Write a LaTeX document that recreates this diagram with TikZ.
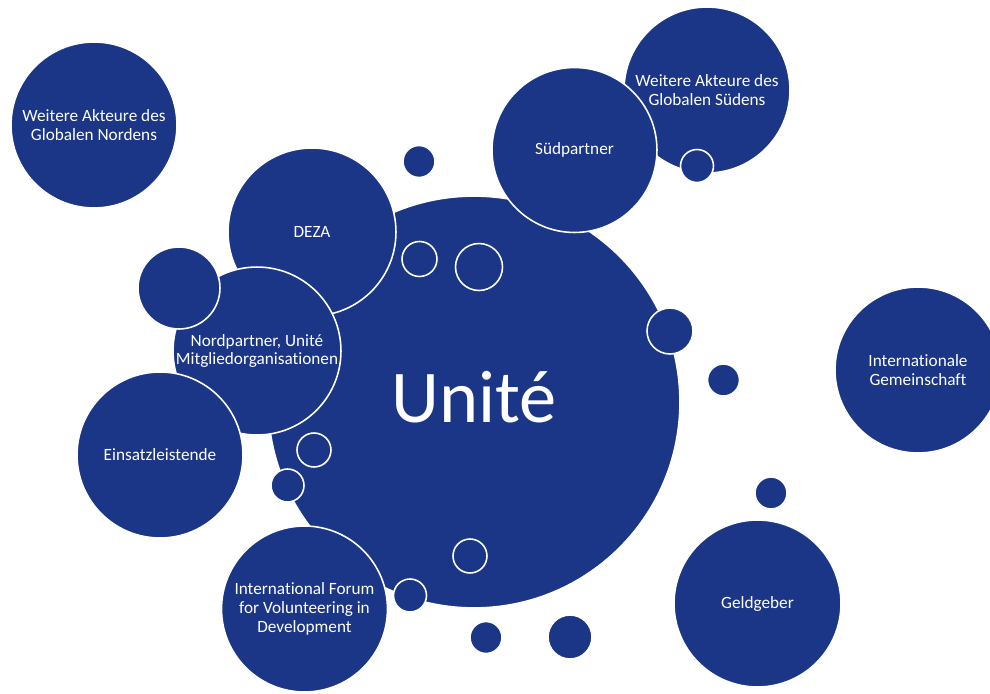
\documentclass[tikz,border=0pt]{standalone}
\usepackage{fontspec}
\setmainfont[Ligatures=NoCommon]{Carlito}
\definecolor{uniteblue}{RGB}{27,54,134}
\begin{document}
\begin{tikzpicture}[x=0.02cm,y=-0.02cm,
  bubble/.style={circle, fill=uniteblue, draw=white, line width=0.9pt,
    minimum size=#1*0.04cm, inner sep=0pt},
  bubbletext/.style={text=white, font=\fontsize{9.8}{10.8}\selectfont, align=center},
  bigtext/.style={text=white, font=\fontsize{42.4}{46}\selectfont}
]
\useasboundingbox (0,0) rectangle (990,693);

% outer actors
\node[bubble=83, bubbletext] (nord) at (94,125) {Weitere Akteure des\\Globalen Nordens};
\node[bubble=83, bubbletext] (sued) at (707,90) {Weitere Akteure des\\Globalen Südens};

% central organisation
\node[bubble=206] (unite) at (474,402) {};
\node[bigtext, anchor=base] (unitetext) at (474,422) {Unité};

% partners around the centre
\node[bubble=84, bubbletext] (deza) at (312,232) {DEZA};
\node[bubble=84, bubbletext] (nordpartner) at (257,351) {Nordpartner, Unité\\Mitgliedorganisationen};
\node[bubble=41] (s1) at (179,288) {};
\node[bubble=83, bubbletext] (einsatz) at (160,455) {Einsatzleistende};
\node[bubble=82.5, bubbletext] (suedpartner) at (574.5,150) {Südpartner};
\node[bubble=83, bubbletext] (forum) at (304.5,609) {International Forum\\for Volunteering in\\Development};

% small bubbles
\node[bubble=16.5] (s2) at (697,166) {};
\node[bubble=16] (s3) at (419,161.5) {};
\node[bubble=17.5] (s4) at (419.5,259) {};
\node[bubble=23.5] (s5) at (479,267) {};
\node[bubble=17] (s6) at (314,450) {};
\node[bubble=16.5] (s7) at (287.5,485.5) {};
\node[bubble=16.5] (s8) at (410,595.5) {};
\node[bubble=17] (s9) at (470,556) {};
\node[bubble=16] (s10) at (486,637.5) {};
\node[bubble=22] (s11) at (570,637) {};
\node[bubble=23] (s12) at (670,331) {};
\node[bubble=16] (s13) at (723.5,380) {};
\node[bubble=16] (s14) at (771,493) {};

% funding and international actors
\node[bubble=83.5, bubbletext] (geld) at (757.5,603.5) {Geldgeber};
\node[bubble=83, bubbletext] (intl) at (918,370) {Internationale\\Gemeinschaft};
\end{tikzpicture}
\end{document}
